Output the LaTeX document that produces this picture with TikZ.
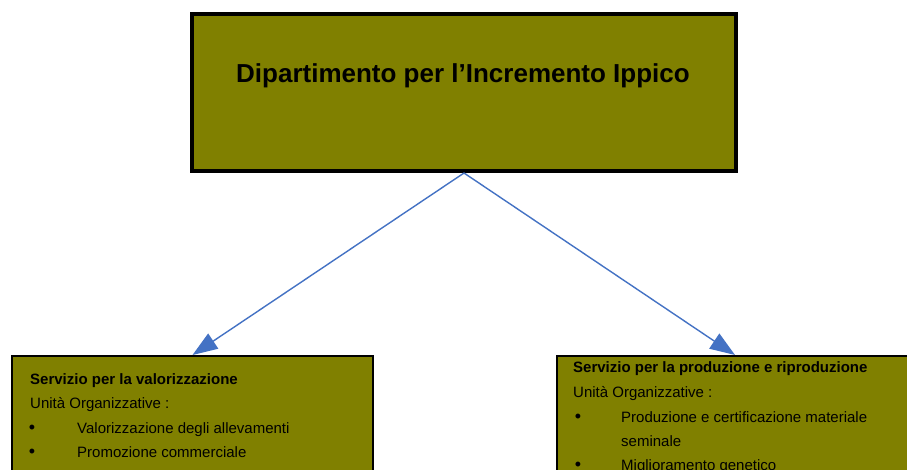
\documentclass[tikz,border=0pt]{standalone}
\usepackage{fontspec}
\setmainfont{Liberation Sans}
\usetikzlibrary{arrows.meta}
\definecolor{boxolive}{HTML}{808000}
\definecolor{linkblue}{HTML}{4472C4}
\begin{document}
\begin{tikzpicture}[x=1pt,y=-1pt,
  topbox/.style={draw=black, line width=4pt, fill=boxolive, minimum width=544pt, minimum height=157pt, inner sep=0pt},
  subbox/.style={draw=black, line width=1.5pt, fill=boxolive, minimum height=200pt, inner sep=0pt, anchor=north},
  link/.style={draw=linkblue, line width=1.4pt, -{Triangle[length=25pt,width=18pt]}},
  txt/.style={anchor=base west, inner sep=0pt, font=\fontsize{15}{18}\selectfont},
  txtb/.style={anchor=base west, inner sep=0pt, font=\bfseries\fontsize{15}{18}\selectfont},
  bul/.style={anchor=base, inner sep=0pt, font=\fontsize{18}{20}\selectfont},
  titletxt/.style={anchor=base, inner sep=0pt, font=\bfseries\fontsize{26}{30}\selectfont}]
\useasboundingbox (0,0) rectangle (907,470);
\clip (0,0) rectangle (907,470);
\fill[white] (0,0) rectangle (907,470);
\node[topbox] (dip) at (464,92.5) {};
\node[titletxt] (title) at (463,83) {Dipartimento per l’Incremento Ippico};
\node[subbox, minimum width=361pt] (left) at (192.5,355) {};
\node[subbox, minimum width=356pt] (right) at (735,355) {};
\draw[link] (dip.south) -- (left.north);
\draw[link] (dip.south) -- (right.north);
% left box text
\node[txtb] (l1) at (30,384) {Servizio per la valorizzazione};
\node[txt] (l2) at (30,408) {Unità Organizzative :};
\node[bul] (l3b) at (32,433) {•};
\node[txt] (l3) at (77,433) {Valorizzazione degli allevamenti};
\node[bul] (l4b) at (32,457) {•};
\node[txt] (l4) at (77,457) {Promozione commerciale};
% right box text
\node[txtb] (r1) at (573,372) {Servizio per la produzione e riproduzione};
\node[txt] (r2) at (573,397) {Unità Organizzative :};
\node[bul] (r3b) at (578,422) {•};
\node[txt] (r3) at (621,422) {Produzione e certificazione materiale};
\node[txt] (r4) at (621,446) {seminale};
\node[bul] (r5b) at (578,470) {•};
\node[txt] (r5) at (621,470) {Miglioramento genetico};
\end{tikzpicture}
\end{document}
